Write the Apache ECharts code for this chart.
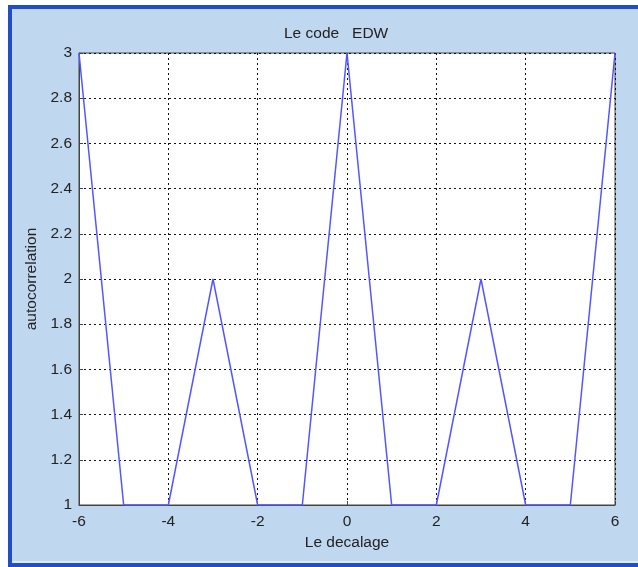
<!DOCTYPE html>
<html>
<head>
<meta charset="utf-8">
<script src="https://cdn.jsdelivr.net/npm/echarts@6/dist/echarts.min.js"></script>
<style>
html,body{margin:0;padding:0;background:#fff;}
#chart{width:638px;height:567px;}
</style>
</head>
<body>
<div id="chart"></div>
<script>
// Data
var lags = [-6, -5, -4, -3, -2, -1, 0, 1, 2, 3, 4, 5, 6];
var autocorr = [3, 1, 1, 2, 1, 1, 3, 1, 1, 2, 1, 1, 3];
var titleText = 'Le code   EDW';
var xLabel = 'Le decalage';
var yLabel = 'autocorrelation';

var seriesData = lags.map(function (x, i) { return [x, autocorr[i]]; });

var chart = echarts.init(document.getElementById('chart'), null, {renderer: 'canvas'});
var FONT = 'Liberation Sans, Arial, sans-serif';
var textStyle = {color: '#222222', fontFamily: FONT, fontSize: 15.5};

chart.setOption({
  backgroundColor: '#ffffff',
  animation: false,
  graphic: [
    {type: 'rect', z: -10, shape: {x: 8, y: 5, width: 630, height: 562}, style: {fill: '#1f4fc6'}},
    {type: 'rect', z: -9, shape: {x: 12, y: 9, width: 626, height: 553}, style: {fill: '#bfd8f0'}},
    {type: 'rect', z: -9, shape: {x: 12, y: 561, width: 626, height: 2}, style: {fill: '#dde9f6'}}
  ],
  title: {
    text: titleText,
    left: 279,
    top: 21,
    textStyle: {color: '#222222', fontFamily: FONT, fontSize: 15.5, fontWeight: 'normal'}
  },
  grid: {
    left: 79, right: 23, top: 53, bottom: 62,
    show: true, backgroundColor: '#ffffff', borderColor: '#444', borderWidth: 1
  },
  xAxis: {
    type: 'value', min: -6, max: 6, interval: 2,
    name: xLabel, nameLocation: 'middle', nameGap: 28,
    nameTextStyle: textStyle,
    axisLine: {show: true, onZero: false, lineStyle: {color: '#444', width: 1}},
    axisTick: {show: true, inside: true, length: 4, lineStyle: {color: '#444'}},
    axisLabel: Object.assign({margin: 9}, textStyle),
    splitLine: {show: true, lineStyle: {color: '#111', type: [2, 3], width: 1}}
  },
  yAxis: {
    type: 'value', min: 1, max: 3, interval: 0.2,
    name: yLabel, nameLocation: 'middle', nameGap: 39,
    nameTextStyle: textStyle,
    axisLine: {show: true, onZero: false, lineStyle: {color: '#444', width: 1}},
    axisTick: {show: true, inside: true, length: 4, lineStyle: {color: '#444'}},
    axisLabel: Object.assign({margin: 7, formatter: function (v) { return String(Math.round(v * 10) / 10); }}, textStyle),
    splitLine: {show: true, lineStyle: {color: '#111', type: [2, 3], width: 1}}
  },
  series: [{
    type: 'line',
    data: seriesData,
    showSymbol: false,
    lineStyle: {color: '#5555ff', width: 1.5},
    itemStyle: {color: '#5555ff'},
    z: 3
  }]
});
</script>
</body>
</html>
